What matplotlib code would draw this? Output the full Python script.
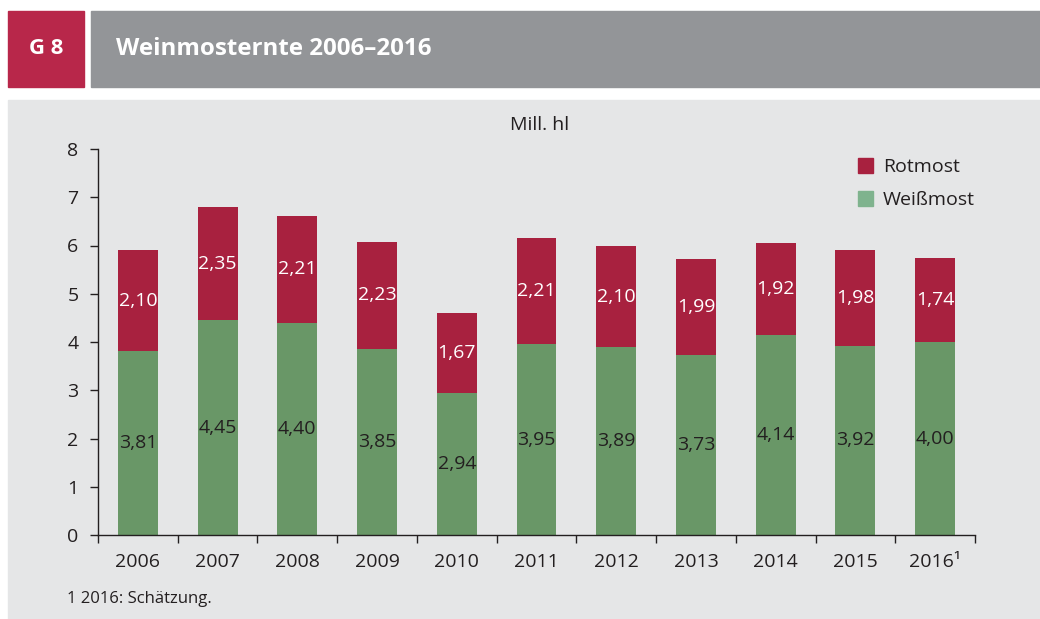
import matplotlib
matplotlib.use("Agg")
import matplotlib.pyplot as plt
import matplotlib.patches as mpatches
import numpy as np

plt.rcParams["font.family"] = ["Open Sans", "DejaVu Sans"]

years = ["2006", "2007", "2008", "2009", "2010", "2011",
         "2012", "2013", "2014", "2015", "2016\u00b9"]
weiss = [3.81, 4.45, 4.40, 3.85, 2.94, 3.95, 3.89, 3.73, 4.14, 3.92, 4.00]
rot = [2.10, 2.35, 2.21, 2.23, 1.67, 2.21, 2.10, 1.99, 1.92, 1.98, 1.74]

RED = "#a8213f"
GREEN = "#699767"
GREEN_LEG = "#7fb38e"
PANEL = "#e5e6e7"
HEAD = "#939598"
TEXT = "#231f20"

fig = plt.figure(figsize=(10.4, 6.19), dpi=100)
W, H = 1040, 619

# header boxes and panel background (behind the axes)
for rect, col in [((8, 87, 76, 76), "#b8274a"),
                  ((91, 87, 949, 76), HEAD),
                  ((8, 619, 1032, 519), PANEL)]:
    x0, ytop, w, h = rect
    fig.patches.append(mpatches.Rectangle((x0 / W, 1 - ytop / H), w / W, h / H,
                                          transform=fig.transFigure, color=col,
                                          zorder=-10))
fig.text(46 / W, 1 - 49 / H, "G 8", color="white", fontsize=16, fontweight="bold",
         ha="center", va="center")
fig.text(116 / W, 1 - 49 / H, "Weinmosternte 2006\u20132016", color="white",
         fontsize=17.4, fontweight="bold", ha="left", va="center")

ax = fig.add_axes([98 / W, 1 - 535 / H, 877 / W, 386 / H])
ax.set_facecolor("none")
x = np.arange(len(years))
ax.bar(x, weiss, width=0.5, color=GREEN)
ax.bar(x, rot, width=0.5, bottom=weiss, color=RED)

for i in range(len(years)):
    ax.text(x[i], weiss[i] / 2, f"{weiss[i]:.2f}".replace(".", ","),
            ha="center", va="center", fontsize=14, color=TEXT)
    ax.text(x[i], weiss[i] + rot[i] / 2, f"{rot[i]:.2f}".replace(".", ","),
            ha="center", va="center", fontsize=14, color="white")

ax.set_xlim(-0.5, len(years) - 0.5)
ax.set_ylim(0, 8)
ax.set_yticks(range(9))
ax.set_xticks(x)
ax.set_xticklabels(years)
ax.set_xticks(np.arange(-0.5, len(years)), minor=True)
ax.tick_params(axis="x", which="major", length=0, pad=13, labelsize=14, colors=TEXT)
ax.tick_params(axis="x", which="minor", length=6, width=1, color=TEXT)
ax.tick_params(axis="y", length=6, width=1, labelsize=14, colors=TEXT, pad=8)
for s in ["top", "right"]:
    ax.spines[s].set_visible(False)
for s in ["left", "bottom"]:
    ax.spines[s].set_color(TEXT)
    ax.spines[s].set_linewidth(1)

fig.text(540 / W, 1 - 125 / H, "Mill. hl", fontsize=14, color=TEXT,
         ha="center", va="center")

handles = [mpatches.Patch(color=RED, label="Rotmost"),
           mpatches.Patch(color=GREEN_LEG, label="Weißmost")]
ax.legend(handles=handles, loc="upper right", bbox_to_anchor=(1.02, 1.022),
          frameon=False, fontsize=14, handlelength=0.8, handleheight=0.8,
          handletextpad=0.5, labelspacing=0.75, labelcolor=TEXT)

fig.text(67 / W, 1 - 599 / H, "1 2016: Schätzung.", fontsize=12, color=TEXT,
         ha="left", va="center")

fig.savefig("out.png", dpi=100)
